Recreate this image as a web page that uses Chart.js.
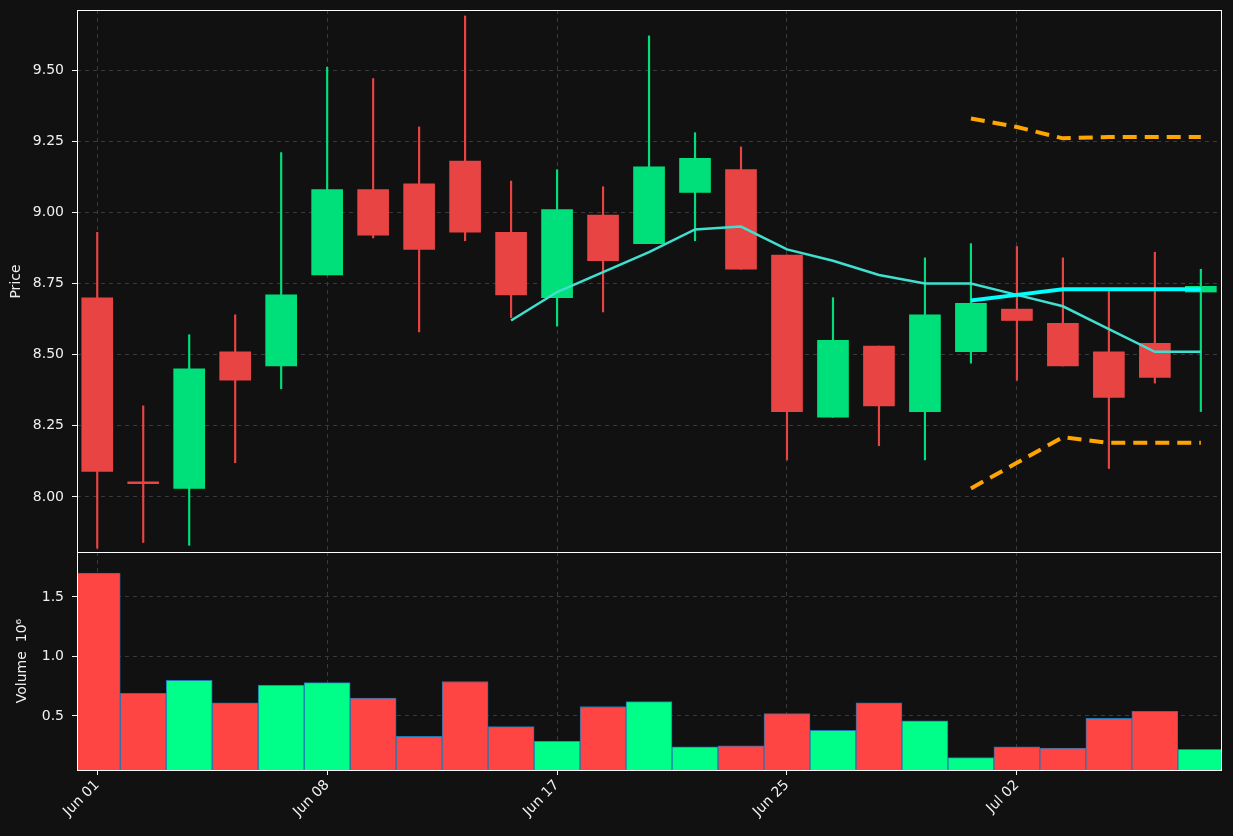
<!DOCTYPE html>
<html>
<head>
<meta charset="utf-8">
<script src="https://cdn.jsdelivr.net/npm/chart.js@4.4.0/dist/chart.umd.min.js"></script>
<style>
  html, body { margin: 0; padding: 0; background: #111111; overflow: hidden; }
  #wrap { position: relative; width: 1233px; height: 836px; }
  #priceChart { position: absolute; left: 0; top: 0; }
  #volChart { position: absolute; left: 0; top: 552px; }
</style>
</head>
<body>
<div id="wrap">
  <canvas id="priceChart" width="1233" height="553"></canvas>
  <canvas id="volChart" width="1233" height="284"></canvas>
</div>
<script>
// Candle data (one per trading day)
const dateLabels = ['Jun 01', 'Jun 08', 'Jun 17', 'Jun 25', 'Jul 02'];
const labelIndex = [0, 5, 10, 15, 20];
const opens  = [8.70, 8.05, 8.03, 8.51, 8.46, 8.78, 9.08, 9.10, 9.18, 8.93, 8.70, 8.99, 8.89, 9.07, 9.15, 8.85, 8.28, 8.53, 8.30, 8.51, 8.66, 8.61, 8.51, 8.54, 8.72];
const closes = [8.09, 8.05, 8.45, 8.41, 8.71, 9.08, 8.92, 8.87, 8.93, 8.71, 9.01, 8.83, 9.16, 9.19, 8.80, 8.30, 8.55, 8.32, 8.64, 8.68, 8.62, 8.46, 8.35, 8.42, 8.74];
const highs  = [8.93, 8.32, 8.57, 8.64, 9.21, 9.51, 9.47, 9.30, 9.69, 9.11, 9.15, 9.09, 9.62, 9.28, 9.23, 8.85, 8.70, 8.53, 8.84, 8.89, 8.88, 8.84, 8.73, 8.86, 8.80];
const lows   = [7.82, 7.84, 7.83, 8.12, 8.38, 8.78, 8.91, 8.58, 8.90, 8.63, 8.60, 8.65, 8.89, 8.90, 8.80, 8.13, 8.28, 8.18, 8.13, 8.47, 8.41, 8.46, 8.10, 8.40, 8.30];
const volumes = [1.70, 0.69, 0.80, 0.61, 0.76, 0.78, 0.65, 0.33, 0.79, 0.41, 0.29, 0.58, 0.62, 0.24, 0.25, 0.52, 0.38, 0.61, 0.46, 0.15, 0.24, 0.23, 0.48, 0.54, 0.22];

// moving average starts at index 9
const maStart = 9;
const maValues = [8.62, 8.72, 8.79, 8.86, 8.94, 8.95, 8.87, 8.83, 8.78, 8.75, 8.75, 8.71, 8.67, 8.59, 8.51, 8.51];

// forecast band starts at index 19
const fcStart = 19;
const fcValues = [8.69, 8.71, 8.73, 8.73, 8.73, 8.73];
const fcUpper  = [9.33, 9.30, 9.26, 9.265, 9.265, 9.265];
const fcLower  = [8.03, 8.12, 8.21, 8.19, 8.19, 8.19];

const RED = '#e84444';
const GREEN = '#00e07a';
const VRED = '#ff4444';
const VGREEN = '#00ff88';
const TXT = '#f0f0f0';
const GRID = '#3a3a3a';
const FONT = { family: 'DejaVu Sans', size: 14 };

const isUp = opens.map((o, i) => closes[i] > o);
const pts = (start, arr) => arr.map((v, i) => ({ x: start + i, y: v }));

const frame = {
    id: 'frame',
    afterDraw(chart) {
        const a = chart.chartArea, c = chart.ctx;
        c.save();
        c.strokeStyle = '#ffffff';
        c.lineWidth = 1;
        c.strokeRect(a.left + 0.5, a.top + 0.5, a.right - a.left - 1, a.bottom - a.top);
        c.restore();
    }
};

const xScale = (showTicks) => ({
    type: 'linear',
    min: -0.44,
    max: 24.46,
    offset: false,
    afterBuildTicks: (s) => { s.ticks = labelIndex.map(v => ({ value: v })); },
    grid: { color: GRID, tickColor: TXT, tickLength: 5, drawTicks: showTicks, offset: false },
    border: { display: false, dash: [4, 4] },
    ticks: {
        display: showTicks,
        color: TXT,
        font: FONT,
        padding: 2,
        minRotation: 45,
        maxRotation: 45,
        callback: (v) => dateLabels[labelIndex.indexOf(v)] || ''
    },
    afterFit: (s) => {
        s.height = showTicks ? 66 : 0;
        s.paddingLeft = 0; s.paddingRight = 0;
    }
});

const yFit = (s) => {
    s.width = 77;
    s.paddingTop = 0; s.paddingBottom = 0;
};

Chart.defaults.color = TXT;

new Chart(document.getElementById('priceChart'), {
    type: 'bar',
    data: {
        datasets: [
            {
                type: 'line', label: 'upper', data: pts(fcStart, fcUpper),
                borderColor: '#ffa500', borderWidth: 4, borderDash: [14, 8], pointRadius: 0, order: 1
            },
            {
                type: 'line', label: 'lower', data: pts(fcStart, fcLower),
                borderColor: '#ffa500', borderWidth: 4, borderDash: [14, 8], pointRadius: 0, order: 1
            },
            {
                type: 'line', label: 'forecast', data: pts(fcStart, fcValues),
                borderColor: '#00ffff', borderWidth: 4, pointRadius: 0, order: 1
            },
            {
                type: 'line', label: 'ma', data: pts(maStart, maValues),
                borderColor: '#40e0d0', borderWidth: 2.5, pointRadius: 0, order: 2
            },
            {
                label: 'body',
                data: opens.map((o, i) => ({ x: i, y: o === closes[i] ? [o - 0.003, o + 0.003] : [o, closes[i]] })),
                backgroundColor: isUp.map(u => u ? GREEN : RED),
                barThickness: 31, grouped: false, order: 3
            },
            {
                label: 'wick',
                data: lows.map((l, i) => ({ x: i, y: [l, highs[i]] })),
                backgroundColor: isUp.map(u => u ? GREEN : RED),
                barThickness: 1.5, grouped: false, order: 4
            }
        ]
    },
    options: {
        responsive: false,
        animation: false,
        layout: { padding: { top: 10, right: 11, bottom: 0, left: 0 } },
        plugins: { legend: { display: false }, tooltip: { enabled: false } },
        scales: {
            x: xScale(false),
            y: {
                min: 7.803, max: 9.711,
                afterBuildTicks: (s) => { s.ticks = [8.0, 8.25, 8.5, 8.75, 9.0, 9.25, 9.5].map(v => ({ value: v })); },
                ticks: { color: TXT, font: FONT, padding: 8, callback: (v) => v.toFixed(2) },
                grid: { color: GRID, tickColor: TXT, tickLength: 5 },
                border: { display: false, dash: [4, 4] },
                title: { display: true, text: 'Price', color: TXT, font: FONT, padding: { top: 8, bottom: 0 } },
                afterFit: yFit
            }
        }
    },
    plugins: [frame]
});

new Chart(document.getElementById('volChart'), {
    type: 'bar',
    data: {
        datasets: [{
            label: 'Volume',
            data: volumes.map((v, i) => ({ x: i, y: v })),
            backgroundColor: isUp.map(u => u ? VGREEN : VRED),
            borderColor: '#1f77b4',
            borderWidth: 1,
            barThickness: 46
        }]
    },
    options: {
        responsive: false,
        animation: false,
        layout: { padding: { top: 0, right: 11, bottom: 0, left: 0 } },
        plugins: { legend: { display: false }, tooltip: { enabled: false } },
        scales: {
            x: xScale(true),
            y: {
                min: 0.046, max: 1.878,
                afterBuildTicks: (s) => { s.ticks = [0.5, 1.0, 1.5].map(v => ({ value: v })); },
                ticks: { color: TXT, font: FONT, padding: 8, callback: (v) => v.toFixed(1) },
                grid: { color: GRID, tickColor: TXT, tickLength: 5 },
                border: { display: false, dash: [4, 4] },
                title: { display: true, text: 'Volume  10⁶', color: TXT, font: FONT, padding: { top: 14, bottom: 0 } },
                afterFit: yFit
            }
        }
    },
    plugins: [frame]
});
</script>
</body>
</html>
